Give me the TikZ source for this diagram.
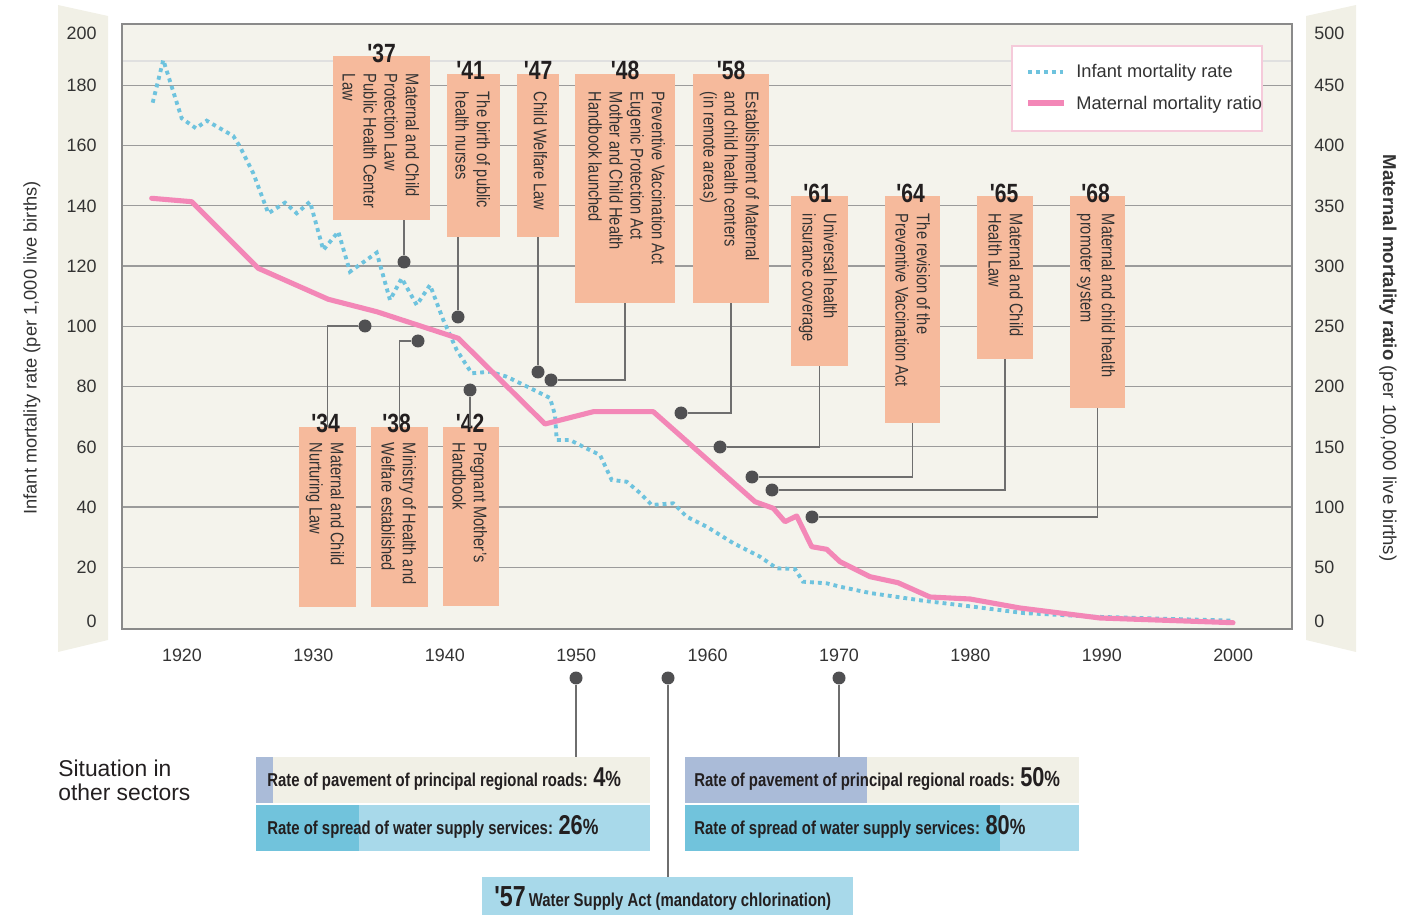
\documentclass[tikz,border=0pt]{standalone}
\usepackage{fontspec}
\setmainfont{Liberation Sans}
\newfontfamily\condfont[FakeStretch=0.8]{Liberation Sans}
\usepackage{tikz}
\usetikzlibrary{positioning,calc,fit}

\definecolor{plotbg}{HTML}{F4F3EC}
\definecolor{bandc}{HTML}{F1F0E6}
\definecolor{gridc}{HTML}{9B9B9B}
\definecolor{framec}{HTML}{8A8A8A}
\definecolor{boxfill}{HTML}{F6BA9C}
\definecolor{dotc}{HTML}{505052}
\definecolor{linkc}{HTML}{6E6E6E}
\definecolor{infantc}{HTML}{6EC3DE}
\definecolor{maternalc}{HTML}{F387B7}
\definecolor{legbd}{HTML}{F5CADA}
\definecolor{cream}{HTML}{F1F0E6}
\definecolor{roadc}{HTML}{AABBD8}
\definecolor{waterl}{HTML}{A8D9EA}
\definecolor{waterd}{HTML}{71C3DC}
\definecolor{txt}{HTML}{333333}
\definecolor{txtdark}{HTML}{231F20}

\newcommand{\pctval}[1]{{\fontsize{15.5}{15.5}\selectfont #1}{\fontsize{12.5}{12.5}\selectfont\%}}

\begin{document}
\begin{tikzpicture}[
  x=0.02cm,y=-0.02cm,
  font=\fontsize{10.2}{12}\selectfont,
  evbox/.style={fill=boxfill,inner sep=0pt},
  evtext/.style={rotate=-90,anchor=north west,align=left,inner sep=0pt,
    font=\condfont\fontsize{10.4}{12}\selectfont,text=txt},
  yrlbl/.style={anchor=base,inner sep=0pt,font=\condfont\bfseries\fontsize{15}{15}\selectfont,text=txtdark},
  evdot/.style={circle,fill=dotc,inner sep=0pt,minimum size=0.26cm},
  link/.style={draw=linkc,line width=0.8pt},
  gridln/.style={gridc,line width=0.7pt},
  tickl/.style={text=txt,inner sep=0pt},
  infant/.style={infantc,line width=2.2pt,dash pattern=on 2.2pt off 2.3pt},
  maternal/.style={maternalc,line width=2.9pt,line join=round,line cap=round},
  barbox/.style={inner sep=0pt},
  bartxt/.style={anchor=base west,inner sep=0pt,font=\condfont\bfseries\fontsize{10.6}{12}\selectfont,text=txtdark}
]
\useasboundingbox (0,0) rectangle (1404,915);
% axis bands
\fill[bandc] (58,5) -- (108,16) -- (108,640) -- (58,652) -- cycle;
\fill[bandc] (1306,16) -- (1356,5) -- (1356,652) -- (1306,640) -- cycle;
% plot area
\fill[plotbg] (122,24) rectangle (1292,629);
\draw[black!12,line width=0.6pt] (122,61) -- (1292,61);
\foreach \v in {20,40,...,180}
  \draw[gridln] (122,{627.5-3.013*\v}) -- (1292,{627.5-3.013*\v});
\draw[framec,line width=1.3pt] (122,24) rectangle (1292,629);
% scales
\foreach \v/\yy in {0/621,20/567,40/507,60/447,80/386,100/326,120/266,140/206,160/145,180/85,200/33}{
  \pgfmathtruncatemacro\m{2.5*\v}
  \node[tickl,anchor=east] (l\v) at (97,\yy) {\v};
  \node[tickl,anchor=west] (r\v) at (1314,\yy) {\m};
}
\foreach \yr in {1920,1930,...,2000}
  \node[tickl] (x\yr) at ({182+(\yr-1920)*13.14},655) {\yr};
\node[rotate=90,text=txt,font=\fontsize{10.4}{12}\selectfont] (ytl) at (32,348)
  {Infant mortality rate (per 1,000 live births)};
\node[rotate=-90,text=txt,font=\fontsize{10.6}{12}\selectfont] (ytr) at (1388,358)
  {\textbf{Maternal mortality ratio} (per 100,000 live births)};
% infant mortality rate
\draw[infant] plot coordinates {(152.7,102.7) (163.3,60) (181.7,118.3) (196,128.3)
  (206.7,120.7) (233.3,136) (240,146.7) (253.3,173.3) (268.3,213.3) (285,202.7)
  (296.7,213.3) (310,201.7) (323.3,250) (338.3,231.7) (350,271.7) (376.7,252.7)
  (390,300) (401.7,278.3) (416.7,305) (430,285) (443.3,320) (456.7,350)
  (471.7,373.3) (490,371.7) (506.7,376.7) (530,388) (550,398) (555,415)
  (556.7,440) (570,440) (583,446.7) (600,455) (611.7,480) (626.7,481.7)
  (640,493) (651.7,505) (673.3,503.3) (686.7,516.7) (706.7,526.7) (733,543)
  (760,556.7) (776.7,568.3) (795,569) (803,581.7) (826.7,583.3) (840,586.7)
  (870,593) (923,600.7) (973,606.7) (1023,613) (1093,616.7) (1233,620.7)};
% maternal mortality ratio
\draw[maternal] plot coordinates {(151.7,198.3) (191.7,201.7) (258.3,268.3)
  (328.3,299.3) (376.7,311.7) (458.3,338.3) (545,424) (593.3,411.7)
  (653.3,411.7) (755,501.7) (773.3,508.3) (785,521.7) (796.7,516)
  (811.7,546.7) (826.7,549.3) (840,561.7) (870,576.7) (898,582.7) (930,597)
  (970,599) (1020,608) (1100,618) (1233,622.7)};
% legend
\node[fill=white,draw=legbd,line width=0.6pt,inner sep=0pt,fit={(1012,46) (1262,131)}] (leg) {};
\draw[infant] (1028,72) -- (1063,72);
\draw[maternal,line cap=butt] (1028,103) -- (1064,103);
\node[anchor=base west,inner sep=0pt,text=txt,font=\fontsize{10.4}{12}\selectfont] (lgi) at (1076,78) {Infant mortality rate};
\node[anchor=base west,inner sep=0pt,text=txt,font=\fontsize{10.4}{12}\selectfont] (lgm) at (1076,110) {Maternal mortality ratio};
% events above the curves
\node[evbox,fit={(333,56) (430,220)}] (b37) {};
\node[evtext] (t37) at ($(b37.north east)+(-11,18)$) {Maternal and Child\\Protection Law\\Public Health Center\\Law};
\node[yrlbl] (y37) at ($(b37.north)+(0,7)$) {'37};
\node[evbox,fit={(447,74) (500,237)}] (b41) {};
\node[evtext] (t41) at ($(b41.north east)+(-10,18)$) {The birth of public\\health nurses};
\node[yrlbl] (y41) at ($(b41.north)+(-3,6)$) {'41};
\node[evbox,fit={(517,74) (559,237)}] (b47) {};
\node[evtext] (t47) at ($(b47.north east)+(-12,18)$) {Child Welfare Law};
\node[yrlbl] (y47) at ($(b47.north)+(0,6)$) {'47};
\node[evbox,fit={(575,74) (675,303)}] (b48) {};
\node[evtext] (t48) at ($(b48.north east)+(-10,18)$) {Preventive Vaccination Act\\Eugenic Protection Act\\Mother and Child Health\\Handbook launched};
\node[yrlbl] (y48) at ($(b48.north)+(0,6)$) {'48};
\node[evbox,fit={(693,74) (769,303)}] (b58) {};
\node[evtext] (t58) at ($(b58.north east)+(-10,18)$) {Establishment of Maternal\\and child health centers\\(in remote areas)};
\node[yrlbl] (y58) at ($(b58.north)+(0,6)$) {'58};
\node[evbox,fit={(791,196) (848,366)}] (b61) {};
\node[evtext] (t61) at ($(b61.north east)+(-11,18)$) {Universal health\\insurance coverage};
\node[yrlbl] (y61) at ($(b61.north)+(-2,7)$) {'61};
\node[evbox,fit={(885,196) (940,423)}] (b64) {};
\node[evtext] (t64) at ($(b64.north east)+(-10,18)$) {The revision of the\\Preventive Vaccination Act};
\node[yrlbl] (y64) at ($(b64.north)+(-2,7)$) {'64};
\node[evbox,fit={(977,196) (1033,359)}] (b65) {};
\node[evtext] (t65) at ($(b65.north east)+(-10,18)$) {Maternal and Child\\Health Law};
\node[yrlbl] (y65) at ($(b65.north)+(-1,7)$) {'65};
\node[evbox,fit={(1070,196) (1125,408)}] (b68) {};
\node[evtext] (t68) at ($(b68.north east)+(-10,18)$) {Maternal and child health\\promoter system};
\node[yrlbl] (y68) at ($(b68.north)+(-2,7)$) {'68};
% events below the curves
\node[evbox,fit={(299,427) (356,607)}] (b34) {};
\node[evtext] (t34) at ($(b34.north east)+(-12,16)$) {Maternal and Child\\Nurturing Law};
\node[yrlbl] (y34) at ($(b34.north)+(-2,6)$) {'34};
\node[evbox,fit={(371,427) (428,607)}] (b38) {};
\node[evtext] (t38) at ($(b38.north east)+(-12,16)$) {Ministry of Health and\\Welfare established};
\node[yrlbl] (y38) at ($(b38.north)+(-3,6)$) {'38};
\node[evbox,fit={(443,427) (499,606)}] (b42) {};
\node[evtext] (t42) at ($(b42.north east)+(-12,16)$) {Pregnant Mother’s\\Handbook};
\node[yrlbl] (y42) at ($(b42.north)+(-1,6)$) {'42};
% markers on the curves
\node[evdot] (d37) at (404,262) {};
\node[evdot] (d41) at (458,317) {};
\node[evdot] (d47) at (538,372) {};
\node[evdot] (d48) at (551,380) {};
\node[evdot] (d58) at (681,413) {};
\node[evdot] (d61) at (720,447) {};
\node[evdot] (d64) at (752,477) {};
\node[evdot] (d65) at (772,490) {};
\node[evdot] (d68) at (812,517) {};
\node[evdot] (d34) at (365,326) {};
\node[evdot] (d38) at (418,341) {};
\node[evdot] (d42) at (470,390) {};
% leaders
\draw[link] (d37) -- (d37 |- b37.south);
\draw[link] (d41) -- (d41 |- b41.south);
\draw[link] (d47) -- (d47 |- b47.south);
\draw[link] (b48.south) |- (d48);
\draw[link] (b58.south) |- (d58);
\draw[link] (b61.south) |- (d61);
\draw[link] (b64.south) |- (d64);
\draw[link] (b65.south) |- (d65);
\draw[link] (b68.south) |- (d68);
\draw[link] (b34.north) |- (d34);
\draw[link] (b38.north) |- (d38);
\draw[link] (d42) -- (d42 |- b42.north);
% situation in other sectors
\node[anchor=north west,align=left,inner sep=0pt,text=txtdark,font=\fontsize{13}{13.7}\selectfont] (situ) at (58,760) {Situation in\\other sectors};
\node[barbox,fill=cream,fit={(256,757) (650,803)}] (roadA) {};
\fill[roadc] (roadA.north west) rectangle ($(roadA.south west)+(17,0)$);
\node[barbox,fill=waterl,fit={(256,805) (650,851)}] (waterA) {};
\fill[waterd] (waterA.north west) rectangle ($(waterA.south west)+(103,0)$);
\node[bartxt] (troadA) at (267,786) {Rate of pavement of principal regional roads: \pctval{4}};
\node[bartxt] (twaterA) at (267,834) {Rate of spread of water supply services: \pctval{26}};
\node[barbox,fill=cream,fit={(685,757) (1079,803)}] (roadB) {};
\fill[roadc] (roadB.north west) rectangle ($(roadB.south west)+(182,0)$);
\node[barbox,fill=waterl,fit={(685,805) (1079,851)}] (waterB) {};
\fill[waterd] (waterB.north west) rectangle ($(waterB.south west)+(315,0)$);
\node[bartxt] (troadB) at (694,786) {Rate of pavement of principal regional roads: \pctval{50}};
\node[bartxt] (twaterB) at (694,834) {Rate of spread of water supply services: \pctval{80}};
\node[barbox,fill=waterl,fit={(482,877) (853,915)}] (act57) {};
\node[bartxt] (tact57) at (494,906) {{\fontsize{16.5}{16.5}\selectfont '57}\,Water Supply Act (mandatory chlorination)};
% year markers under the axis
\node[evdot] (d50) at (576,678) {};
\node[evdot] (d57) at (668,678) {};
\node[evdot] (d70) at (839,678) {};
\draw[link] (d50) -- (d50 |- roadA.north);
\draw[link] (d57) -- (d57 |- act57.north);
\draw[link] (d70) -- (d70 |- roadB.north);
\end{tikzpicture}
\end{document}
